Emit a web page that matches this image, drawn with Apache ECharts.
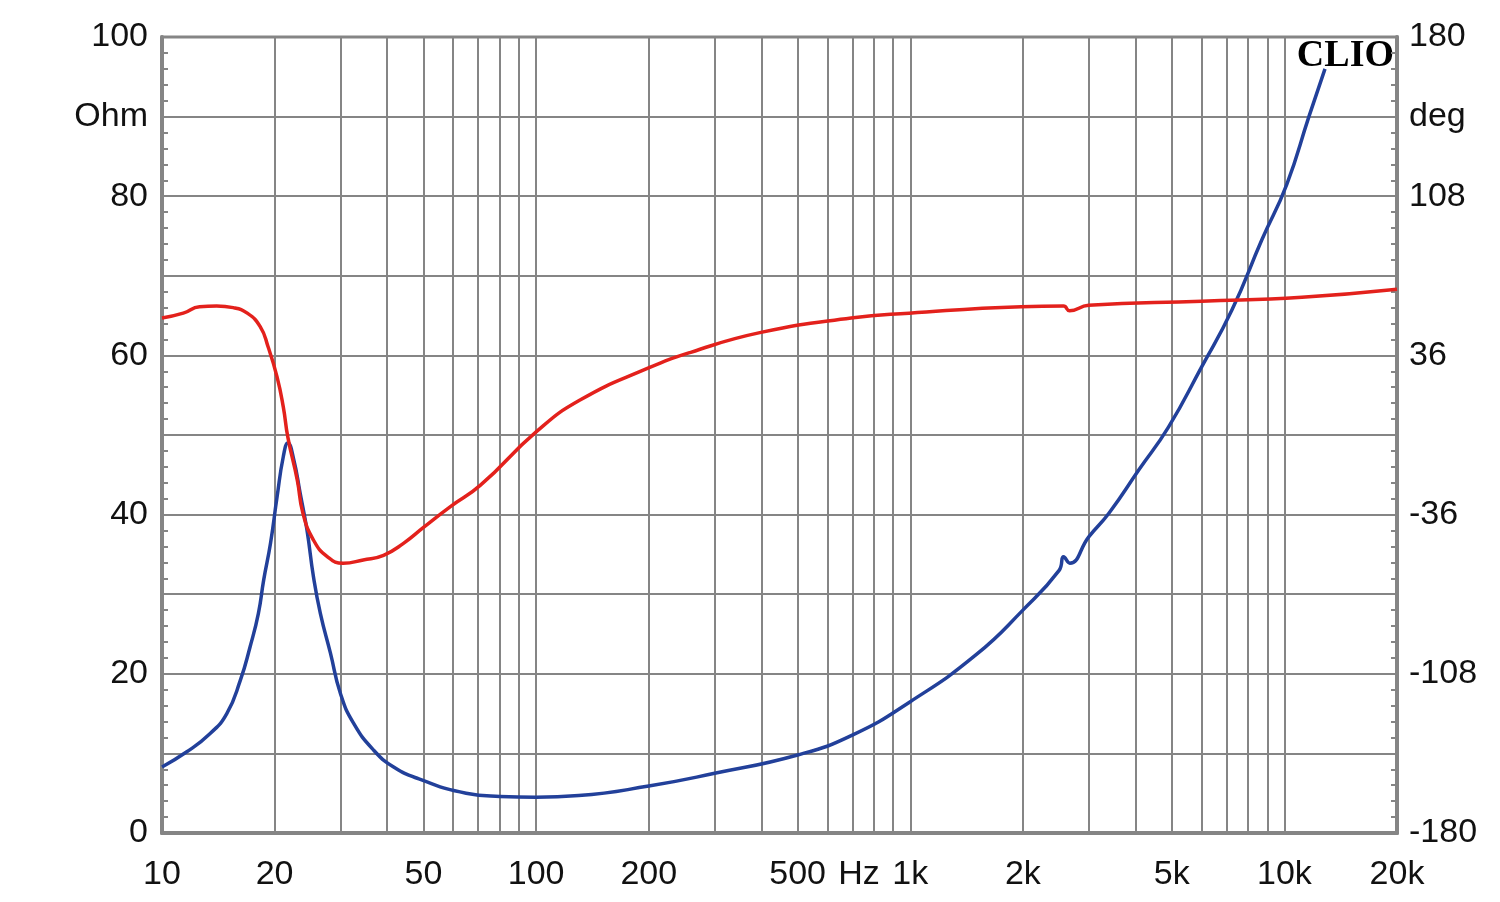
<!DOCTYPE html>
<html>
<head>
<meta charset="utf-8">
<script src="https://cdn.jsdelivr.net/npm/echarts@6/dist/echarts.min.js"></script>
<style>
  html, body { margin: 0; padding: 0; background: #fff; }
  #chart { width: 1500px; height: 902px; }
</style>
</head>
<body>
<div id="chart"></div>
<script>
// impedance (blue, Ohm, left axis)
const impFreq = [10, 11.65, 13.45, 14.9, 16.2, 17.2, 18.1, 18.7, 19.5, 20.3, 21.1, 21.7, 22.5, 23.4, 24.4, 25.4, 26.5, 28.2, 30.0, 32.5, 36.8, 41.6, 48.6, 65, 80, 100, 130, 200, 300, 500, 700, 1000, 1500, 2000, 2500, 2570, 2670, 3000, 3400, 4080, 4900, 6000, 7240, 8700, 10150, 11630, 12840];
const impOhm  = [8.3, 10.2, 12.5, 15.0, 19.2, 23.4, 27.6, 31.8, 36.4, 42.2, 47.3, 49.0, 46.9, 42.7, 38.1, 32.2, 27.6, 22.6, 17.5, 13.8, 10.4, 8.3, 6.8, 5.0, 4.6, 4.5, 4.7, 5.9, 7.5, 9.8, 12.3, 16.5, 22.4, 28, 33, 34.7, 33.9, 37.2, 40.2, 45.6, 51, 58.5, 65.7, 74.5, 81.5, 90, 96];

// phase (red, deg, right axis)
const phFreq = [10, 11.4, 12.6, 14.0, 15.5, 16.9, 18.3, 19.2, 20.3, 21.1, 21.7, 23.0, 23.8, 25.4, 27.7, 30.5, 34.5, 39.1, 44.2, 50, 59, 71, 100, 131, 199, 259, 399, 695, 993, 1982, 2568, 2666, 2997, 6012, 11140, 20000];
const phDeg  = [52.9, 55.1, 58.0, 58.3, 57.6, 55.1, 49.0, 40.0, 26.3, 12.6, -1.1, -20.5, -35.3, -47.5, -55.1, -58.0, -56.5, -54.4, -49.0, -41.8, -32.4, -22.7, 1.4, 15.8, 30.2, 37.4, 46.4, 52.9, 55.1, 58.0, 58.3, 56.2, 58.7, 60.5, 62.3, 65.9];

// axis ticks
const gridFreqs = [10, 20, 30, 40, 50, 60, 70, 80, 90, 100, 200, 300, 400, 500, 600, 700, 800, 900, 1000, 2000, 3000, 4000, 5000, 6000, 7000, 8000, 9000, 10000, 20000];
const labelFreqs = [10, 20, 50, 100, 200, 500, 1000, 2000, 5000, 10000, 20000];
const ohmLabels = [0, 20, 40, 60, 80, 100];
const degLabels = [-180, -108, -36, 36, 108, 180];

const lg = f => Math.log10(f);
const fmtFreq = v => {
  const f = Math.round(Math.pow(10, v));
  return f >= 1000 ? (f / 1000) + 'k' : String(f);
};

const gray = '#858585';
const font = 'Liberation Sans, Arial, sans-serif';

const chart = echarts.init(document.getElementById('chart'));
chart.setOption({
  backgroundColor: '#fff',
  animation: false,
  grid: {
    left: 162, right: 103, top: 37, bottom: 69,
    show: true, borderColor: gray, borderWidth: 3
  },
  xAxis: {
    type: 'value',
    min: 1, max: lg(20000),
    axisLine: { lineStyle: { color: gray, width: 4 } },
    axisTick: { show: false, customValues: gridFreqs.map(lg) },
    splitLine: { show: true, lineStyle: { color: gray, width: 2 } },
    axisLabel: {
      customValues: labelFreqs.map(lg),
      formatter: fmtFreq,
      color: '#111', fontSize: 34, fontFamily: font, margin: 25
    }
  },
  yAxis: [
    {
      type: 'value', min: 0, max: 100, interval: 10,
      axisLine: { show: true, lineStyle: { color: gray, width: 4 } },
      axisTick: { show: true, inside: true, length: 6, lineStyle: { color: gray, width: 2 } },
      minorTick: { show: true, splitNumber: 5, length: 6, lineStyle: { color: gray, width: 2 } },
      splitLine: { show: true, lineStyle: { color: gray, width: 2 } },
      axisLabel: {
        color: '#111', fontSize: 34, fontFamily: font, margin: 14,
        formatter: v => v === 90 ? 'Ohm' : (ohmLabels.includes(v) ? String(v) : '')
      }
    },
    {
      type: 'value', min: -180, max: 180, interval: 36, position: 'right',
      axisLine: { show: true, lineStyle: { color: gray, width: 4 } },
      axisTick: { show: true, inside: true, length: 6, lineStyle: { color: gray, width: 2 } },
      minorTick: { show: true, splitNumber: 5, length: 6, lineStyle: { color: gray, width: 2 } },
      splitLine: { show: false },
      axisLabel: {
        color: '#111', fontSize: 34, fontFamily: font, margin: 12,
        formatter: v => v === 144 ? 'deg' : (degLabels.includes(v) ? String(v) : '')
      }
    }
  ],
  graphic: [
    {
      type: 'text', x: 859, y: 875,
      style: { text: 'Hz', fontSize: 34, fontFamily: font, fill: '#111', align: 'center', verticalAlign: 'middle' }
    },
    {
      type: 'text', right: 106, top: 37,
      style: { text: 'CLIO', fontSize: 38, fontWeight: 'bold', fontFamily: 'Liberation Serif, serif', fill: '#000' }
    }
  ],
  series: [
    {
      name: 'Impedance', type: 'line', yAxisIndex: 0,
      data: impFreq.map((f, i) => [lg(f), impOhm[i]]),
      showSymbol: false, smooth: 0.5,
      lineStyle: { color: '#22409a', width: 3.5 }
    },
    {
      name: 'Phase', type: 'line', yAxisIndex: 1,
      data: phFreq.map((f, i) => [lg(f), phDeg[i]]),
      showSymbol: false, smooth: 0.5,
      lineStyle: { color: '#e3211c', width: 3.5 }
    }
  ]
});
</script>
</body>
</html>
